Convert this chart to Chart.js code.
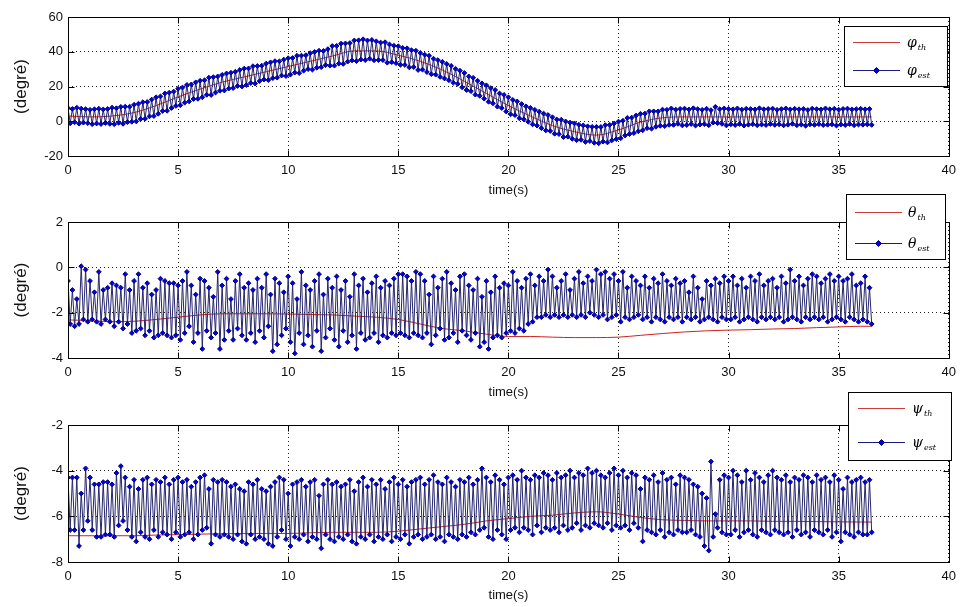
<!DOCTYPE html>
<html>
<head>
<meta charset="utf-8">
<script src="https://cdn.jsdelivr.net/npm/chart.js@4.4.1/dist/chart.umd.min.js"></script>
<style>
  html, body { margin: 0; padding: 0; background: #fff; }
  body { width: 963px; height: 607px; position: relative; overflow: hidden; }
  canvas { position: absolute; left: 0; }
</style>
</head>
<body>
<canvas id="phiChart" width="963" height="203" style="top:0px"></canvas>
<canvas id="thetaChart" width="963" height="220" style="top:180px"></canvas>
<canvas id="psiChart" width="963" height="227" style="top:380px"></canvas>
<script>
// estimated signals are sampled every 0.1 s, from 0 to 36.5 s
const sampleStep = 0.1;

// theoretical curves, read once per second
const refTime = [0,1,2,3,4,5,6,7,8,9,10,11,12,13,14,15,16,17,18,19,20,21,22,23,24,25,26,27,28,29,30,31,32,33,34,35,36,36.5];

const phiTh = [3,2.5,3,5,9,14,18.5,22.5,25.5,28.5,
  31.5,34.5,37.5,40.5,40.5,38,34.5,29.5,23,16,
  9,3,-2.5,-6,-8,-5,-0.5,2,2.5,2.5,
  2.5,2.5,2.5,2.5,2.5,2.5,2.5,2.5];

const thetaTh = [-2.32,-2.35,-2.4,-2.38,-2.3,-2.2,-2.1,-2.05,-2.05,-2.05,
  -2.06,-2.08,-2.1,-2.15,-2.2,-2.3,-2.5,-2.7,-2.8,-2.95,
  -3.05,-3.05,-3.08,-3.1,-3.1,-3.08,-3.0,-2.92,-2.85,-2.8,
  -2.77,-2.75,-2.72,-2.7,-2.66,-2.63,-2.6,-2.6];

const psiTh = [-6.85,-6.85,-6.85,-6.85,-6.82,-6.8,-6.78,-6.76,-6.75,-6.75,
  -6.75,-6.72,-6.7,-6.7,-6.7,-6.65,-6.55,-6.45,-6.35,-6.2,
  -6.1,-6.0,-5.95,-5.85,-5.8,-5.9,-6.05,-6.15,-6.18,-6.2,
  -6.2,-6.2,-6.22,-6.22,-6.23,-6.24,-6.25,-6.25];

// estimates, one row = 2 s
const phiEst = [
  7.6,-1.2,7.1,-0.6,7.8,-1.4,7.3,-0.8,7.0,-1.1,6.6,-1.7,6.9,-1.3,7.2,-1.6,6.8,-1.0,7.1,-1.5,
  7.8,-1.7,7.5,-0.9,8.3,-1.5,8.4,-0.5,8.4,-0.3,9.5,-0.1,10.1,1.3,11.0,1.4,11.1,2.8,12.5,3.0,
  13.8,4.3,14.3,5.9,16.0,6.0,16.5,7.6,17.1,8.8,18.7,9.2,19.4,10.7,20.9,11.4,21.2,12.8,22.4,12.9,
  23.3,13.8,23.6,15.2,25.1,15.1,25.4,16.5,25.8,17.5,26.7,17.7,27.5,18.8,27.9,19.1,28.5,20.3,29.5,20.0,
  30.3,20.8,30.4,22.0,31.7,21.7,31.8,23.1,32.0,24.0,33.2,23.7,33.9,24.8,34.6,25.1,34.5,26.3,35.5,26.0,
  36.3,26.8,36.4,28.0,37.7,27.7,37.8,29.1,38.0,30.0,39.2,29.7,39.9,30.8,40.6,31.1,40.5,32.3,41.5,32.0,
  43.3,32.0,43.4,33.2,44.7,33.0,44.8,34.3,45.0,35.0,46.5,34.6,46.6,35.5,47.2,35.2,46.5,36.0,46.8,35.1,
  46.0,35.2,45.3,35.2,45.5,33.7,44.2,34.0,43.5,33.4,43.2,32.5,42.2,32.4,42.0,31.0,40.9,31.2,40.6,29.5,
  39.3,29.7,38.3,28.3,37.7,27.1,36.0,26.8,35.2,25.5,34.2,24.6,33.0,23.6,31.9,22.2,30.2,21.5,29.1,19.5,
  27.8,18.0,25.8,17.3,25.0,15.3,23.3,14.6,21.8,13.0,20.7,11.2,19.1,10.3,18.0,8.4,16.0,7.6,15.2,5.6,
  13.8,4.0,12.3,3.5,11.4,1.7,9.9,1.1,8.6,-0.3,7.7,-1.8,6.6,-2.5,5.5,-4.0,4.4,-5.3,3.6,-5.6,
  2.3,-7.2,1.0,-7.4,0.9,-9.1,-0.1,-8.9,-0.8,-10.1,-1.2,-10.9,-2.0,-10.7,-2.4,-11.9,-2.9,-11.4,-3.2,-12.4,
  -3.2,-12.7,-3.3,-11.7,-2.2,-12.2,-2.1,-11.0,-1.3,-10.3,-0.2,-9.8,0.3,-8.2,1.9,-7.4,2.1,-6.8,3.3,-5.8,
  4.3,-5.2,4.4,-4.0,5.7,-4.3,5.7,-3.2,5.7,-2.6,6.7,-2.8,6.6,-2.1,7.4,-2.1,6.7,-1.5,7.1,-2.4,
  7.3,-2.2,6.8,-1.6,7.5,-2.5,7.0,-1.9,6.6,-1.7,7.2,-2.3,6.4,-0.8,8.3,-1.1,7.0,-1.5,7.4,-2.4,
  7.1,-1.8,6.9,-2.2,7.4,-1.6,6.7,-2.5,7.2,-2.0,7.0,-1.7,6.8,-2.3,7.5,-1.9,6.9,-2.2,7.1,-1.6,
  7.3,-2.1,6.6,-1.8,7.0,-2.4,7.4,-2.0,6.8,-1.5,7.2,-2.3,6.9,-1.9,7.1,-2.6,6.5,-1.8,7.3,-2.1,
  7.0,-1.7,6.8,-2.2,7.4,-2.0,6.9,-1.8,7.2,-2.5,6.7,-1.9,7.1,-2.2,7.3,-1.6,6.8,-2.3,7.0,-1.9,
  7.2,-2.0,6.9,-1.8,7.1,-2.1
];

const thetaEst = [
  -0.6,-2.5,-1.0,-2.6,-1.4,-2.5,0.05,-2.3,-0.1,-2.4,-0.6,-2.3,-1.1,-2.4,-0.2,-2.5,-1.0,-2.3,-0.9,-2.4,
  -0.7,-2.6,-0.8,-2.4,-0.9,-2.7,-0.3,-2.5,-1.0,-2.9,-0.6,-2.8,-0.3,-2.7,-0.9,-3.0,-0.7,-2.8,-1.2,-3.1,
  -1.0,-3.0,-0.5,-2.9,-0.6,-3.0,-0.7,-3.1,-0.7,-3.0,-0.8,-3.2,-0.6,-2.9,-0.2,-2.6,-0.8,-3.3,-1.2,-2.9,
  -0.5,-3.6,-0.6,-2.8,-0.9,-3.1,-1.3,-2.9,-0.2,-3.6,-0.8,-3.2,-0.5,-2.8,-1.4,-3.2,-0.6,-2.7,-0.3,-3.0,
  -0.9,-3.2,-0.7,-2.9,-1.0,-3.3,-0.5,-2.8,-0.9,-3.1,-0.3,-2.6,-1.2,-3.7,-0.5,-3.4,-0.7,-3.0,-1.1,-2.7,
  -0.4,-3.3,-0.7,-3.8,-1.4,-2.9,-0.2,-3.4,-0.8,-3.0,-1.0,-3.5,-0.6,-2.8,-0.3,-3.7,-1.2,-3.1,-0.5,-2.7,
  -0.9,-3.2,-0.4,-3.5,-1.0,-2.8,-0.6,-3.3,-1.3,-3.0,-0.3,-3.6,-0.8,-2.9,-0.5,-3.2,-1.1,-3.1,-0.7,-2.9,
  -0.4,-3.3,-0.9,-3.0,-0.6,-3.1,-0.8,-2.9,-0.5,-3.0,-0.3,-2.9,-0.3,-3.0,-0.4,-3.1,-0.6,-2.9,-0.2,-3.0,
  -0.3,-3.1,-0.6,-2.9,-1.2,-3.4,-0.4,-3.0,-0.9,-2.7,-0.5,-3.2,-0.2,-3.1,-0.7,-2.9,-1.0,-3.3,-0.4,-2.8,
  -0.3,-3.0,-0.8,-3.2,-1.0,-2.9,-0.5,-3.5,-1.3,-3.3,-0.6,-3.6,-1.1,-3.1,-0.4,-3.0,-0.9,-3.1,-0.7,-2.9,
  -0.8,-2.8,-0.2,-2.9,-0.6,-2.7,-0.9,-2.8,-0.5,-2.5,-0.3,-2.4,-0.8,-2.2,-0.4,-2.2,-0.6,-2.1,-0.1,-2.2,
  -0.4,-2.1,-0.9,-2.2,-0.6,-2.1,-0.3,-2.2,-1.0,-2.1,-0.5,-2.2,-0.2,-2.1,-0.7,-2.2,-0.4,-2.0,-0.6,-2.1,
  -0.1,-2.2,-0.3,-2.1,-0.2,-2.3,-0.5,-2.2,-0.3,-2.1,-0.6,-2.4,-0.2,-2.2,-0.9,-2.3,-0.4,-2.2,-0.6,-2.1,
  -0.8,-2.3,-0.4,-2.2,-0.9,-2.4,-0.5,-2.2,-0.7,-2.3,-0.3,-2.4,-0.6,-2.2,-0.8,-2.3,-0.5,-2.2,-0.7,-2.4,
  -0.6,-2.2,-1.1,-2.3,-0.4,-2.2,-0.9,-2.4,-1.4,-2.3,-0.6,-2.2,-0.8,-2.3,-0.5,-2.4,-0.7,-2.2,-0.4,-2.3,
  -0.6,-2.3,-0.4,-2.2,-0.8,-2.4,-0.5,-2.3,-0.9,-2.2,-0.4,-2.3,-0.6,-2.4,-0.3,-2.2,-0.8,-2.3,-0.6,-2.2,
  -0.5,-2.3,-0.9,-2.2,-0.4,-2.4,-0.7,-2.3,-0.1,-2.2,-0.6,-2.3,-0.4,-2.4,-0.8,-2.2,-0.5,-2.3,-0.3,-2.2,
  -0.4,-2.3,-0.7,-2.2,-0.5,-2.4,-0.3,-2.3,-0.6,-2.2,-0.4,-2.3,-0.6,-2.4,-0.5,-2.2,-0.3,-2.3,-0.8,-2.4,
  -0.7,-2.3,-0.4,-2.4,-0.9,-2.5
];

const psiEst = [
  -4.3,-6.6,-4.3,-6.6,-4.3,-7.3,-5.0,-6.6,-3.9,-6.2,-4.3,-6.6,-4.6,-6.9,-4.6,-6.9,-4.5,-6.8,-4.5,-6.8,
  -4.6,-6.9,-4.1,-6.4,-3.8,-6.2,-4.3,-6.6,-4.7,-6.9,-4.4,-7.1,-4.8,-6.7,-4.4,-6.9,-4.3,-7.0,-4.6,-6.6,
  -4.4,-6.9,-4.5,-6.7,-4.3,-6.8,-4.6,-7.0,-4.4,-6.7,-4.3,-6.9,-4.5,-6.8,-4.4,-6.7,-4.7,-7.0,-4.5,-6.8,
  -4.3,-6.6,-4.2,-6.5,-4.8,-7.2,-4.4,-6.8,-4.5,-6.9,-4.4,-6.8,-4.5,-6.9,-4.7,-7.0,-4.6,-6.8,-4.8,-7.1,
  -4.9,-7.2,-4.5,-6.8,-4.6,-7.0,-4.4,-6.9,-4.8,-7.0,-4.9,-7.2,-4.7,-7.3,-4.5,-6.9,-4.3,-6.6,-4.4,-7.0,
  -5.0,-7.3,-4.6,-6.9,-4.5,-7.0,-4.4,-6.8,-4.7,-7.1,-4.5,-6.9,-4.4,-7.0,-5.1,-7.4,-4.6,-6.8,-4.4,-7.0,
  -4.6,-7.1,-4.5,-6.9,-4.7,-7.0,-4.6,-6.8,-4.4,-7.1,-4.9,-7.2,-4.5,-6.9,-4.3,-7.0,-4.7,-6.8,-4.4,-7.1,
  -4.6,-6.9,-4.4,-7.0,-4.8,-6.8,-4.5,-7.1,-4.3,-6.9,-4.6,-7.0,-4.4,-6.8,-4.7,-7.2,-4.5,-6.9,-4.4,-6.8,
  -4.3,-7.0,-4.6,-6.9,-4.4,-6.8,-4.2,-7.0,-4.5,-6.9,-4.6,-7.1,-4.3,-6.8,-4.5,-6.9,-4.7,-7.0,-4.4,-6.8,
  -4.5,-6.9,-4.3,-6.7,-4.6,-6.8,-4.4,-6.6,-3.9,-6.5,-4.3,-6.9,-4.5,-7.0,-4.2,-6.6,-4.4,-6.8,-4.6,-7.0,
  -4.3,-6.6,-4.2,-6.5,-4.4,-6.7,-4.0,-6.5,-4.3,-6.6,-4.4,-6.8,-4.2,-6.4,-4.3,-6.7,-4.1,-6.5,-4.2,-6.6,
  -4.4,-6.5,-4.1,-6.7,-4.3,-6.4,-4.2,-6.6,-4.0,-6.5,-4.3,-6.3,-4.1,-6.6,-4.2,-6.4,-3.9,-6.5,-4.1,-6.3,
  -4.0,-6.4,-4.2,-6.5,-4.3,-6.3,-4.1,-6.6,-3.9,-6.4,-4.2,-6.5,-4.0,-6.4,-4.3,-6.6,-4.1,-6.3,-4.2,-6.5,
  -4.8,-7.1,-4.3,-6.6,-4.4,-6.7,-4.2,-6.8,-4.5,-6.6,-4.1,-6.9,-4.4,-6.7,-4.3,-6.8,-4.6,-6.6,-4.2,-6.7,
  -4.3,-6.7,-4.4,-6.6,-4.6,-6.8,-4.7,-6.9,-5.0,-7.3,-5.2,-7.5,-3.6,-6.9,-5.9,-6.5,-4.4,-6.7,-4.2,-6.8,
  -4.3,-6.8,-4.0,-6.6,-4.2,-6.9,-4.5,-6.7,-4.0,-6.6,-4.4,-6.8,-4.1,-6.9,-4.3,-6.6,-4.5,-6.7,-4.2,-6.8,
  -4.0,-6.6,-4.3,-6.7,-4.4,-6.8,-4.2,-6.7,-4.5,-6.9,-4.3,-6.6,-4.4,-6.8,-4.2,-6.7,-4.3,-6.9,-4.5,-6.6,
  -4.2,-6.7,-4.4,-6.8,-4.3,-6.6,-4.5,-6.9,-4.2,-6.7,-4.4,-7.1,-4.8,-6.7,-4.3,-6.8,-4.5,-6.9,-4.4,-6.7,
  -4.3,-6.8,-4.5,-6.8,-4.4,-6.7
];

const xTicks = [0,5,10,15,20,25,30,35,40];
const phiTicks = [-20,0,20,40,60];
const thetaTicks = [-4,-2,0,2];
const psiTicks = [-8,-6,-4,-2];

const FONT = 'Liberation Sans, Arial, sans-serif';

// black box round the axes, with short inward ticks (matlab look)
const boxFrame = {
  id: 'boxFrame',
  afterDraw(chart) {
    const { ctx, chartArea: a } = chart;
    const xs = chart.scales.x, ys = chart.scales.y;
    const l = Math.round(a.left) + 0.5, r = Math.round(a.right) + 0.5;
    const t = Math.round(a.top) + 0.5, b = Math.round(a.bottom) + 0.5;
    ctx.save();
    ctx.strokeStyle = '#000';
    ctx.lineWidth = 1;
    ctx.strokeRect(l, t, r - l, b - t);
    ctx.beginPath();
    xs.ticks.forEach(tk => {
      const px = Math.round(xs.getPixelForValue(tk.value)) + 0.5;
      ctx.moveTo(px, b); ctx.lineTo(px, b - 6);
      ctx.moveTo(px, t); ctx.lineTo(px, t + 6);
    });
    ys.ticks.forEach(tk => {
      const py = Math.round(ys.getPixelForValue(tk.value)) + 0.5;
      ctx.moveTo(l, py); ctx.lineTo(l + 6, py);
      ctx.moveTo(r, py); ctx.lineTo(r - 6, py);
    });
    ctx.stroke();
    ctx.restore();
  }
};

const boxLegend = {
  id: 'boxLegend',
  afterDraw(chart, args, opts) {
    const ctx = chart.ctx;
    const [x, y, w, h] = opts.box;
    ctx.save();
    ctx.fillStyle = '#fff';
    ctx.fillRect(x, y, w, h);
    ctx.strokeStyle = '#000';
    ctx.lineWidth = 1;
    ctx.strokeRect(x + 0.5, y + 0.5, w, h);

    opts.rows.forEach((row, i) => {
      const ry = y + opts.rowY[i] + 0.5;
      ctx.strokeStyle = row.color;
      ctx.beginPath();
      ctx.moveTo(x + opts.lineX[0], ry);
      ctx.lineTo(x + opts.lineX[1], ry);
      ctx.stroke();
      if (row.marker) {
        const cx = x + (opts.lineX[0] + opts.lineX[1]) / 2;
        ctx.fillStyle = '#0000e0';
        ctx.strokeStyle = '#000080';
        ctx.beginPath();
        ctx.moveTo(cx, ry - 3); ctx.lineTo(cx + 3, ry); ctx.lineTo(cx, ry + 3); ctx.lineTo(cx - 3, ry);
        ctx.closePath();
        ctx.fill(); ctx.stroke();
      }
      ctx.fillStyle = '#000';
      ctx.textBaseline = 'alphabetic';
      ctx.font = 'italic 14px DejaVu Serif';
      const tx = x + opts.textX;
      ctx.fillText(row.symbol, tx, ry + 4);
      const sw = ctx.measureText(row.symbol).width;
      ctx.font = 'italic 8px DejaVu Serif';
      ctx.fillText(row.sub, tx + sw + 1, ry + 7);
    });
    ctx.restore();
  }
};

function buildPanel(canvasId, est, th, yTicks, axisBox, legend) {
  const ctx = document.getElementById(canvasId);
  const estPoints = est.map((v, i) => ({ x: +(i * sampleStep).toFixed(1), y: v }));
  const thPoints = th.map((v, i) => ({ x: refTime[i], y: v }));

  return new Chart(ctx, {
    type: 'line',
    data: {
      datasets: [
        {
          label: legend.rows[1].symbol + legend.rows[1].sub,
          data: estPoints,
          order: 0,
          borderColor: '#27276e',
          borderWidth: 1,
          pointStyle: 'rectRot',
          pointRadius: 2.4,
          pointBackgroundColor: '#0000e6',
          pointBorderColor: '#000080',
          pointBorderWidth: 1,
          tension: 0
        },
        {
          label: legend.rows[0].symbol + legend.rows[0].sub,
          data: thPoints,
          order: 1,
          borderColor: '#d02020',
          borderWidth: 1,
          pointRadius: 0,
          cubicInterpolationMode: 'monotone'
        }
      ]
    },
    options: {
      responsive: false,
      animation: false,
      devicePixelRatio: 1,
      layout: { padding: { top: axisBox.padTop, right: 9, left: 0, bottom: 0 } },
      plugins: {
        legend: { display: false },
        tooltip: { enabled: false },
        boxLegend: legend
      },
      scales: {
        x: {
          type: 'linear',
          min: 0,
          max: 40,
          afterBuildTicks: s => { s.ticks = xTicks.map(v => ({ value: v })); },
          afterFit: s => { s.height = axisBox.xHeight; },
          grid: { color: '#222', lineWidth: 1, drawTicks: false },
          border: { display: false, dash: [1, 3] },
          ticks: { color: '#111', font: { family: FONT, size: 13 }, padding: 7, maxRotation: 0, autoSkip: false },
          title: { display: true, text: 'time(s)', color: '#111', font: { family: FONT, size: 13 }, padding: { top: 0, bottom: axisBox.titlePad } }
        },
        y: {
          min: yTicks[0],
          max: yTicks[yTicks.length - 1],
          afterBuildTicks: s => { s.ticks = yTicks.map(v => ({ value: v })); },
          afterFit: s => { s.width = 68; },
          grid: { color: '#222', lineWidth: 1, drawTicks: false },
          border: { display: false, dash: [1, 3] },
          ticks: { color: '#111', font: { family: FONT, size: 13 }, padding: 5 },
          title: { display: true, text: '(degré)', color: '#111', font: { family: FONT, size: 17 }, padding: { top: 11, bottom: 0 } }
        }
      }
    },
    plugins: [boxFrame, boxLegend]
  });
}

buildPanel('phiChart', phiEst, phiTh, phiTicks,
  { padTop: 17, xHeight: 47, titlePad: 5 },
  { box: [844, 26, 103, 60], rowY: [16, 44], lineX: [9, 56], textX: 63,
    rows: [{ symbol: 'φ', sub: 'th', color: '#c83c3c' }, { symbol: 'φ', sub: 'est', color: '#1c1c80', marker: true }] });

buildPanel('thetaChart', thetaEst, thetaTh, thetaTicks,
  { padTop: 42, xHeight: 42, titlePad: 0 },
  { box: [846, 14, 99, 65], rowY: [18, 49], lineX: [9, 56], textX: 62,
    rows: [{ symbol: 'θ', sub: 'th', color: '#c83c3c' }, { symbol: 'θ', sub: 'est', color: '#1c1c80', marker: true }] });

buildPanel('psiChart', psiEst, psiTh, psiTicks,
  { padTop: 45, xHeight: 45, titlePad: 4 },
  { box: [848, 12, 103, 68], rowY: [16, 50], lineX: [10, 57], textX: 64,
    rows: [{ symbol: 'ψ', sub: 'th', color: '#c83c3c' }, { symbol: 'ψ', sub: 'est', color: '#1c1c80', marker: true }] });
</script>
</body>
</html>
